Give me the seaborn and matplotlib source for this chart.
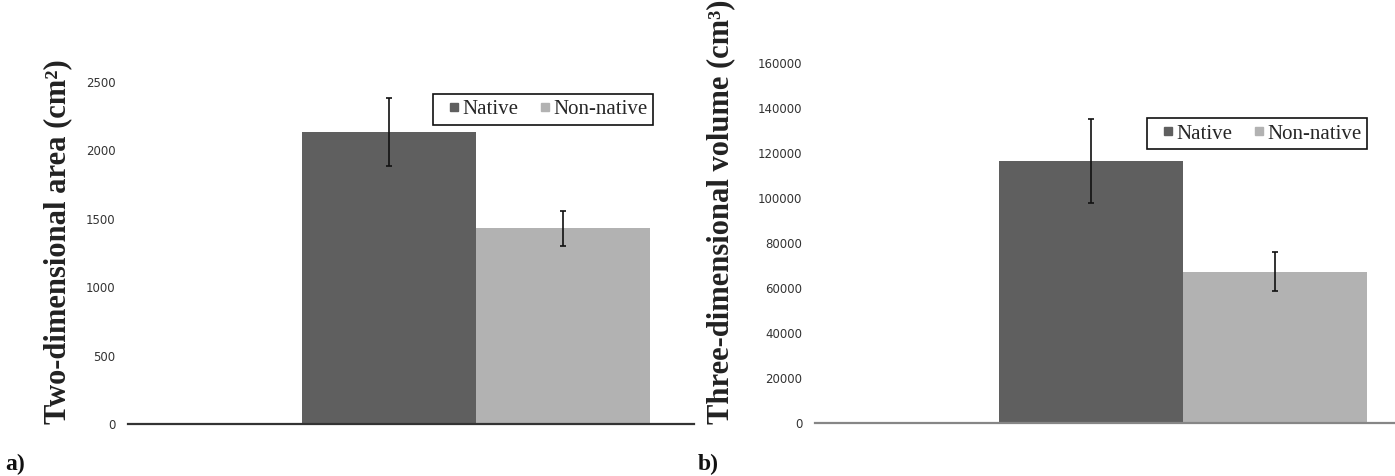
import matplotlib
matplotlib.use("Agg")
import matplotlib.pyplot as plt
from matplotlib.lines import Line2D
import seaborn as sns
import pandas as pd

# Mean values and error half-widths for each origin group
origins = ["Native", "Non-native"]
area_means = [2135, 1430]
area_err = [250, 130]
volume_means = [116500, 67300]
volume_err = [18600, 8700]
area_ticks = [0, 500, 1000, 1500, 2000, 2500]
volume_ticks = [0, 20000, 40000, 60000, 80000, 100000, 120000, 140000, 160000]

palette = {"Native": "#5f5f5f", "Non-native": "#b2b2b2"}

sns.set_theme(style="white")
plt.rcParams["font.family"] = ["DejaVu Sans"]

fig = plt.figure(figsize=(13.95, 4.76), dpi=100)
ax_a = fig.add_axes([0.0918, 0.1092, 0.4057, 0.7185])
ax_b = fig.add_axes([0.5842, 0.1113, 0.4158, 0.7563])


def draw_panel(ax, means, errs, ticks, ylabel, axis_color, label_xy, legend_anchor):
    df = pd.DataFrame({"site": [""] * len(origins), "origin": origins, "value": means})
    sns.barplot(data=df, x="site", y="value", hue="origin", hue_order=origins,
                palette=palette, saturation=1, errorbar=None, width=0.8,
                ax=ax, linewidth=0, legend=False)
    # error bars centred on each drawn bar
    bars = [p for p in ax.patches if p.get_height() > 0]
    bars.sort(key=lambda p: p.get_x())
    for bar, m, e in zip(bars, means, errs):
        cx = bar.get_x() + bar.get_width() / 2
        ax.errorbar(cx, m, yerr=e, fmt="none", ecolor="#111111",
                    elinewidth=1.2, capsize=2.5, capthick=1.2)
    ax.set_ylim(ticks[0], ticks[-1])
    ax.set_yticks(ticks)
    ax.set_yticklabels([str(t) for t in ticks], fontsize=8.5, color="#333333")
    ax.tick_params(axis="y", length=0, pad=9)
    ax.set_xticks([])
    ax.set_xlabel("")
    for side in ["left", "right", "top"]:
        ax.spines[side].set_visible(False)
    ax.spines["bottom"].set_color(axis_color)
    ax.spines["bottom"].set_linewidth(1.6)
    ax.set_ylabel(ylabel, fontsize=22, fontweight="bold",
                  family=["Liberation Serif", "DejaVu Serif"], color="#222222")
    ax.yaxis.set_label_coords(*label_xy)
    handles = [Line2D([], [], linestyle="none", marker="s", markersize=6,
                      markerfacecolor=palette[o], markeredgecolor=palette[o])
               for o in origins]
    leg = ax.legend(handles, origins, loc="upper right", bbox_to_anchor=legend_anchor,
                    ncol=2, frameon=True, fancybox=False, framealpha=1,
                    edgecolor="#111111",
                    prop={"family": "Liberation Serif", "size": 15},
                    handlelength=1.5, handletextpad=-0.35,
                    columnspacing=0.5, borderpad=0.28, borderaxespad=0)
    leg.get_frame().set_linewidth(1.2)


draw_panel(ax_a, area_means, area_err, area_ticks,
           "Two-dimensional area (cm²)", "#333333", (-0.099, 0.532), (0.928, 0.965))
ax_a.set_xlim(-0.8, 0.5)

draw_panel(ax_b, volume_means, volume_err, volume_ticks,
           "Three-dimensional volume (cm³)", "#868686", (-0.138, 0.586), (0.952, 0.847))
ax_b.set_xlim(-0.8, 0.461)

fig.text(0.004, 0.012, "a)", fontsize=17, fontweight="bold",
         family="Liberation Serif", color="#111111")
fig.text(0.5, 0.012, "b)", fontsize=17, fontweight="bold",
         family="Liberation Serif", color="#111111")

fig.savefig("out.png", dpi=100, facecolor="white")
